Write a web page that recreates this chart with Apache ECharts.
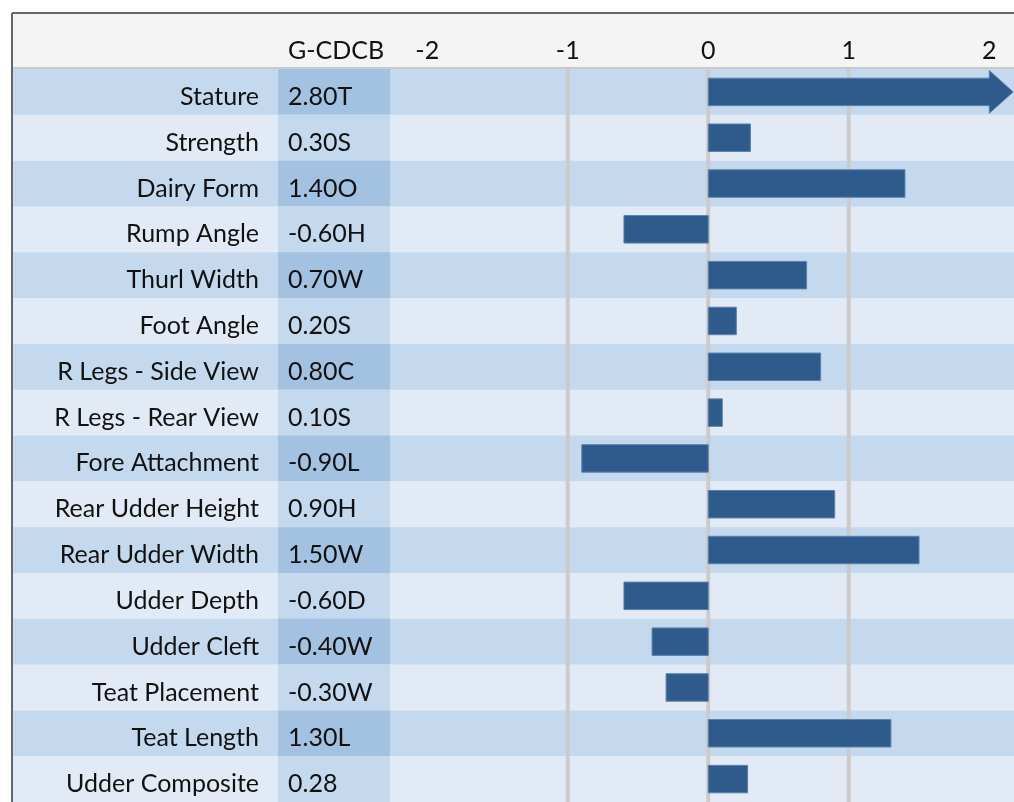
<!DOCTYPE html>
<html>
<head>
<meta charset="utf-8">
<script src="https://cdn.jsdelivr.net/npm/echarts@6/dist/echarts.min.js"></script>
<style>
  html, body { margin: 0; padding: 0; background: #ffffff; }
  #chart { width: 1014px; height: 802px; }
</style>
</head>
<body>
<div id="chart"></div>
<script>
// ---- data ----
const categories = ['Stature', 'Strength', 'Dairy Form', 'Rump Angle', 'Thurl Width', 'Foot Angle',
  'R Legs - Side View', 'R Legs - Rear View', 'Fore Attachment', 'Rear Udder Height',
  'Rear Udder Width', 'Udder Depth', 'Udder Cleft', 'Teat Placement', 'Teat Length', 'Udder Composite'];
const values = [2.80, 0.30, 1.40, -0.60, 0.70, 0.20, 0.80, 0.10, -0.90, 0.90, 1.50, -0.60, -0.40, -0.30, 1.30, 0.28];
const gcdcbLabels = ['2.80T', '0.30S', '1.40O', '-0.60H', '0.70W', '0.20S', '0.80C', '0.10S', '-0.90L',
  '0.90H', '1.50W', '-0.60D', '-0.40W', '-0.30W', '1.30L', '0.28'];
const xTicks = [-2, -1, 0, 1, 2];
const gridValues = [-1, 0, 1];
const columnHeader = 'G-CDCB';

// ---- layout / style ----
const FONT = 'Lato';
const FS = 25;
const X_MIN = -2.265, X_MAX = 2.176;
const ARROW_BASE = 2.0, ARROW_TIP = 2.17;
const FRAME_L = 12, FRAME_T = 13;
const GRID_L = 390, GRID_T = 69, ROW_H = 46.2;
const CELL_L = 278;
const NAME_R = 259, VALUE_L = 288;
const TEXT_DY = 5;
const ROW_DARK = '#c5d9ee', ROW_LIGHT = '#e2ebf5';
const CELL_DARK = '#a3c2e2', CELL_LIGHT = '#c5d9ee';
const BAR = '#2e5b8c';
const TEXT = '#111';

const chart = echarts.init(document.getElementById('chart'), null, { renderer: 'canvas' });

const option = {
  animation: false,
  backgroundColor: '#ffffff',
  grid: { left: GRID_L, top: GRID_T, width: 1014 - GRID_L, height: ROW_H * categories.length, containLabel: false },
  xAxis: {
    type: 'value', position: 'top', min: X_MIN, max: X_MAX,
    axisLine: { show: false }, axisTick: { show: false }, splitLine: { show: false },
    axisLabel: {
      customValues: xTicks, margin: 18, verticalAlign: 'middle',
      color: TEXT, fontFamily: FONT, fontSize: FS,
      showMinLabel: true, showMaxLabel: true
    }
  },
  yAxis: {
    type: 'category', inverse: true, data: categories,
    axisLine: { show: false }, axisTick: { show: false }, splitLine: { show: false },
    axisLabel: { show: false }
  },
  graphic: [
    { type: 'rect', z: -100, shape: { x: FRAME_L, y: FRAME_T, width: 1014 - FRAME_L, height: GRID_T - FRAME_T }, style: { fill: '#f4f4f4' } },
    { type: 'line', z: 100, shape: { x1: FRAME_L, y1: GRID_T - 1, x2: 1014, y2: GRID_T - 1 }, style: { stroke: '#c9c9c9', lineWidth: 2 } },
    { type: 'line', z: 100, shape: { x1: FRAME_L, y1: FRAME_T, x2: 1014, y2: FRAME_T }, style: { stroke: '#666', lineWidth: 2 } },
    { type: 'line', z: 100, shape: { x1: FRAME_L, y1: FRAME_T, x2: FRAME_L, y2: 802 }, style: { stroke: '#666', lineWidth: 2 } },
    { type: 'text', z: 100, style: { text: columnHeader, x: VALUE_L, y: 51, verticalAlign: 'middle', font: `${FS}px ${FONT}`, fill: TEXT } }
  ],
  series: [
    {
      type: 'custom', z: -5, silent: true,
      data: categories.map((c, i) => [0, i]),
      encode: { x: 0, y: 1 },
      renderItem: (params, api) => {
        const i = api.value(1);
        const c = api.coord([0, i]);
        const h = api.size([0, 1])[1];
        const dark = i % 2 === 0;
        const right = params.coordSys.x + params.coordSys.width;
        return {
          type: 'group', children: [
            { type: 'rect', shape: { x: FRAME_L, y: c[1] - h / 2, width: right - FRAME_L, height: h + 0.5 }, style: { fill: dark ? ROW_DARK : ROW_LIGHT } },
            { type: 'rect', shape: { x: CELL_L, y: c[1] - h / 2, width: GRID_L - CELL_L, height: h + 0.5 }, style: { fill: dark ? CELL_DARK : CELL_LIGHT } },
            { type: 'text', z2: 10, style: { text: categories[i], x: NAME_R, y: c[1] + TEXT_DY, verticalAlign: 'middle', align: 'right', font: `${FS}px ${FONT}`, fill: TEXT } },
            { type: 'text', z2: 10, style: { text: gcdcbLabels[i], x: VALUE_L, y: c[1] + TEXT_DY, verticalAlign: 'middle', align: 'left', font: `${FS}px ${FONT}`, fill: TEXT } }
          ]
        };
      }
    },
    {
      type: 'custom', z: 1, silent: true,
      data: gridValues.map(v => [v]),
      encode: { x: 0 },
      renderItem: (params, api) => {
        const x = api.coord([api.value(0), 0])[0];
        const cs = params.coordSys;
        return { type: 'line', shape: { x1: x, y1: cs.y, x2: x, y2: cs.y + cs.height }, style: { stroke: '#cbcbcb', lineWidth: 4 } };
      }
    },
    {
      type: 'custom', z: 3,
      data: values.map((v, i) => [v, i]),
      encode: { x: 0, y: 1 },
      renderItem: (params, api) => {
        const v = api.value(0), i = api.value(1);
        const c0 = api.coord([0, i]);
        const h = api.size([0, 1])[1] * 0.6;
        const style = { fill: BAR, stroke: '#5b82ad', lineWidth: 1 };
        if (v > ARROW_BASE) {
          const cb = api.coord([ARROW_BASE, i]);
          const ct = api.coord([ARROW_TIP, i]);
          return {
            type: 'polygon', shape: { points: [
              [c0[0], c0[1] - h / 2], [cb[0], c0[1] - h / 2], [cb[0], c0[1] - h * 0.78],
              [ct[0], c0[1]], [cb[0], c0[1] + h * 0.78], [cb[0], c0[1] + h / 2], [c0[0], c0[1] + h / 2]
            ] }, style
          };
        }
        const cv = api.coord([v, i]);
        const x = Math.min(c0[0], cv[0]);
        return { type: 'rect', shape: { x, y: c0[1] - h / 2, width: Math.abs(cv[0] - c0[0]), height: h }, style };
      }
    }
  ]
};
chart.setOption(option);
</script>
</body>
</html>
